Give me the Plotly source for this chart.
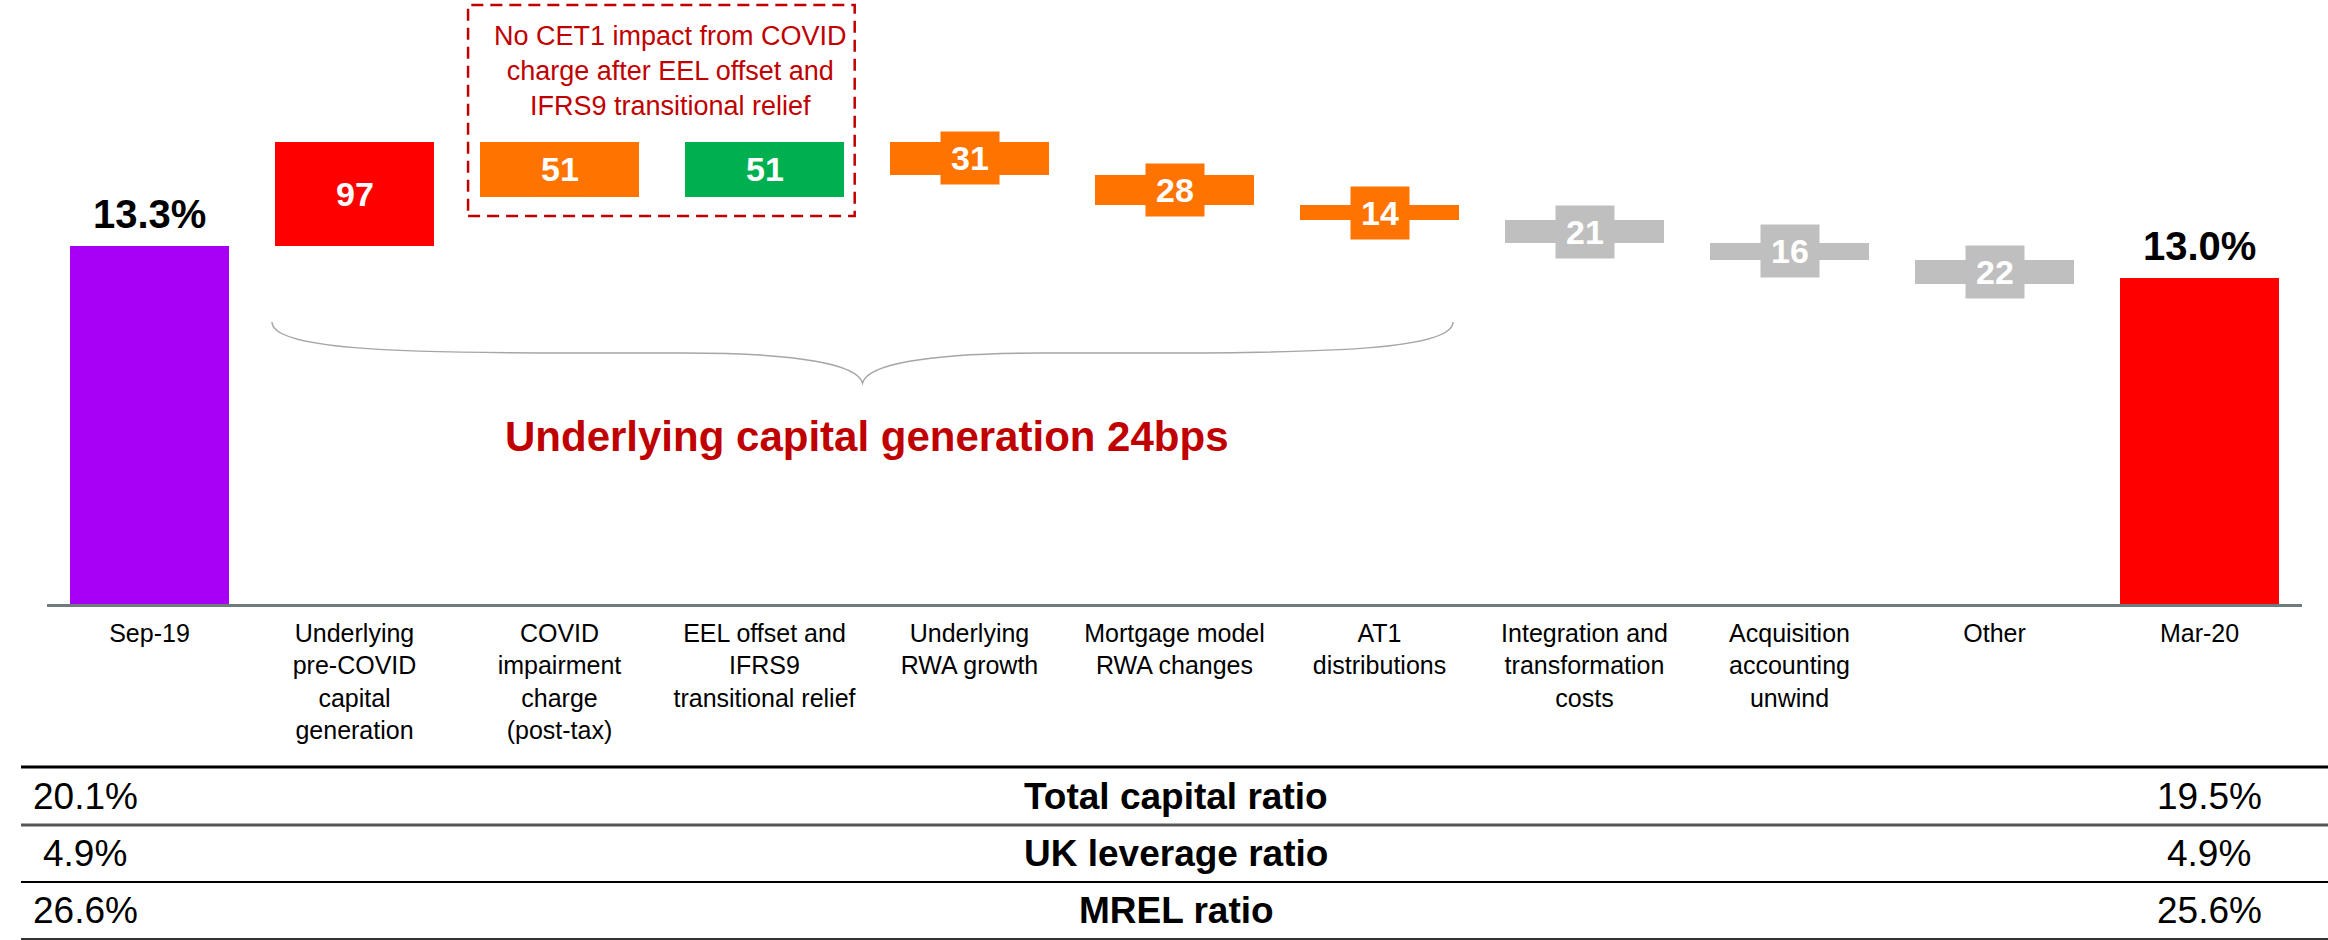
import plotly.graph_objects as go

# ---- data -------------------------------------------------------------
categories = [
    "Sep-19",
    "Underlying<br>pre-COVID<br>capital<br>generation",
    "COVID<br>impairment<br>charge<br>(post-tax)",
    "EEL offset and<br>IFRS9<br>transitional relief",
    "Underlying<br>RWA growth",
    "Mortgage model<br>RWA changes",
    "AT1<br>distributions",
    "Integration and<br>transformation<br>costs",
    "Acquisition<br>accounting<br>unwind",
    "Other",
    "Mar-20",
]
start_cet1_pct = 13.3
end_cet1_pct = 13.0
movements_bps = [97, -51, 51, -31, -28, -14, -21, -16, -22]

table_rows = ["Total capital ratio", "UK leverage ratio", "MREL ratio"]
table_sep19 = ["20.1%", "4.9%", "26.6%"]
table_mar20 = ["19.5%", "4.9%", "25.6%"]

# ---- styling ----------------------------------------------------------
PURPLE = "#A800F5"
RED = "#FF0000"
ORANGE = "#FF7300"
GREEN = "#00B050"
GREY = "#BFBFBF"
DARK_RED = "#C00000"
FONT = "Liberation Sans, Arial, sans-serif"

movement_colors = [RED, ORANGE, GREEN, ORANGE, ORANGE, ORANGE, GREY, GREY, GREY]

BAR_W = 0.776
Y_FLOOR = 997.0          # bps value at the category axis
PX_PER_BP = 1.075
PLOT_H = 604             # plot area height in px
Y_TOP = Y_FLOOR + PLOT_H / PX_PER_BP

# ---- waterfall geometry -----------------------------------------------
xs, bases, heights, colors = [], [], [], []
start_bps = start_cet1_pct * 100
end_bps = end_cet1_pct * 100

xs.append(0)
bases.append(Y_FLOOR)
heights.append(start_bps - Y_FLOOR)
colors.append(PURPLE)

level = start_bps
move_mid = []
for i, (d, c) in enumerate(zip(movements_bps, movement_colors), start=1):
    lo = min(level, level + d)
    xs.append(i)
    bases.append(lo)
    heights.append(abs(d))
    colors.append(c)
    move_mid.append((i, lo + abs(d) / 2, abs(d), c))
    level += d

xs.append(len(categories) - 1)
bases.append(Y_FLOOR)
heights.append(end_bps - Y_FLOOR)
colors.append(RED)

fig = go.Figure()
fig.add_trace(go.Bar(
    x=xs, y=heights, base=bases, width=BAR_W,
    marker=dict(color=colors, line=dict(width=0)),
    hoverinfo="skip", showlegend=False,
))

annotations = []

# value tags on the movement bars
for x, ymid, val, col in move_mid:
    annotations.append(dict(
        x=x, y=ymid, xref="x", yref="y", text=f"<b>{val}</b>",
        showarrow=False, bgcolor=col, width=58, height=52, borderpad=0,
        font=dict(family=FONT, size=34, color="white"),
        xanchor="center", yanchor="middle",
    ))

# ratio labels above the start and end bars
for x, v in [(0, start_cet1_pct), (len(categories) - 1, end_cet1_pct)]:
    annotations.append(dict(
        x=x, y=v * 100, xref="x", yref="y", text=f"<b>{v:.1f}%</b>",
        showarrow=False, xanchor="center", yanchor="bottom", yshift=8,
        font=dict(family=FONT, size=40, color="black"),
    ))

def py(px):
    """Convert a pixel row (from the top) into paper y."""
    return (PLOT_H - px) / PLOT_H

# note inside the dashed box
annotations.append(dict(
    x=2.54, y=py(71), xref="x", yref="paper",
    text="No CET1 impact from COVID<br>charge after EEL offset and<br>IFRS9 transitional relief",
    showarrow=False, align="center", xanchor="center", yanchor="middle",
    font=dict(family=FONT, size=27, color=DARK_RED),
))

# brace caption
annotations.append(dict(
    x=3.5, y=py(436), xref="x", yref="paper",
    text="<b>Underlying capital generation 24bps</b>",
    showarrow=False, xanchor="center", yanchor="middle",
    font=dict(family=FONT, size=42, color=DARK_RED),
))

# ---- table of other capital ratios ------------------------------------
PLOT_L, PLOT_R = 47, 2302
def pxp(px):
    return (px - PLOT_L) / (PLOT_R - PLOT_L)

row_centres = [796, 853, 910]
for name, a, b, yc in zip(table_rows, table_sep19, table_mar20, row_centres):
    annotations.append(dict(x=pxp(85), y=py(yc), xref="paper", yref="paper",
                            text=a, showarrow=False, xanchor="center", yanchor="middle",
                            font=dict(family=FONT, size=37, color="black")))
    annotations.append(dict(x=pxp(1176), y=py(yc), xref="paper", yref="paper",
                            text=f"<b>{name}</b>", showarrow=False,
                            xanchor="center", yanchor="middle",
                            font=dict(family=FONT, size=37, color="black")))
    annotations.append(dict(x=pxp(2209), y=py(yc), xref="paper", yref="paper",
                            text=b, showarrow=False, xanchor="center", yanchor="middle",
                            font=dict(family=FONT, size=37, color="black")))

shapes = []
for ypx, col, w in [(767, "#000000", 3), (825, "#555555", 3),
                    (882, "#000000", 2), (939, "#333333", 2)]:
    shapes.append(dict(type="line", xref="paper", yref="paper",
                       x0=pxp(21), x1=pxp(2328), y0=py(ypx), y1=py(ypx),
                       line=dict(color=col, width=w)))

# dashed frame round the COVID / EEL pair
shapes.append(dict(type="rect", xref="x", yref="paper",
                   x0=1.554, x1=3.44, y0=py(216), y1=py(5),
                   line=dict(color=DARK_RED, width=2.5, dash="12px,7px"),
                   fillcolor="rgba(0,0,0,0)"))

# curly brace under the underlying-generation bars (drawn in pixel space)
def X(px):
    return pxp(px)

bx0, bx1 = 272, 1453
btip = (bx0 + bx1) / 2
ytop, ymid, ytip = 322, 353, 383
path = (
    f"M {X(bx0)},{py(ytop)} "
    f"C {X(bx0)},{py(ymid - 4)} {X(bx0 + 120)},{py(ymid)} {X(bx0 + 300)},{py(ymid)} "
    f"L {X(btip - 180)},{py(ymid)} "
    f"C {X(btip - 60)},{py(ymid)} {X(btip - 5)},{py(ymid + 12)} {X(btip)},{py(ytip)} "
    f"C {X(btip + 5)},{py(ymid + 12)} {X(btip + 60)},{py(ymid)} {X(btip + 180)},{py(ymid)} "
    f"L {X(bx1 - 300)},{py(ymid)} "
    f"C {X(bx1 - 120)},{py(ymid)} {X(bx1)},{py(ymid - 4)} {X(bx1)},{py(ytop)}"
)
shapes.append(dict(type="path", xref="paper", yref="paper", path=path,
                   line=dict(color="#A6A6A6", width=1.5)))

fig.update_layout(
    width=2328, height=940,
    margin=dict(l=PLOT_L, r=2328 - PLOT_R, t=0, b=940 - PLOT_H, pad=0),
    paper_bgcolor="white", plot_bgcolor="white",
    bargap=0, showlegend=False,
    font=dict(family=FONT, color="black"),
    xaxis=dict(
        range=[-0.5, len(categories) - 0.5],
        tickmode="array", tickvals=list(range(len(categories))), ticktext=categories,
        tickfont=dict(family=FONT, size=25, color="black"),
        ticks="", showgrid=False, zeroline=False,
        showline=True, linecolor="#707B80", linewidth=2.5,
        ticklabelstandoff=5, fixedrange=True,
    ),
    yaxis=dict(range=[Y_FLOOR, Y_TOP], visible=False, showgrid=False,
               showline=False, zeroline=False, fixedrange=True),
    annotations=annotations,
    shapes=shapes,
)

fig.write_html("out.html")
